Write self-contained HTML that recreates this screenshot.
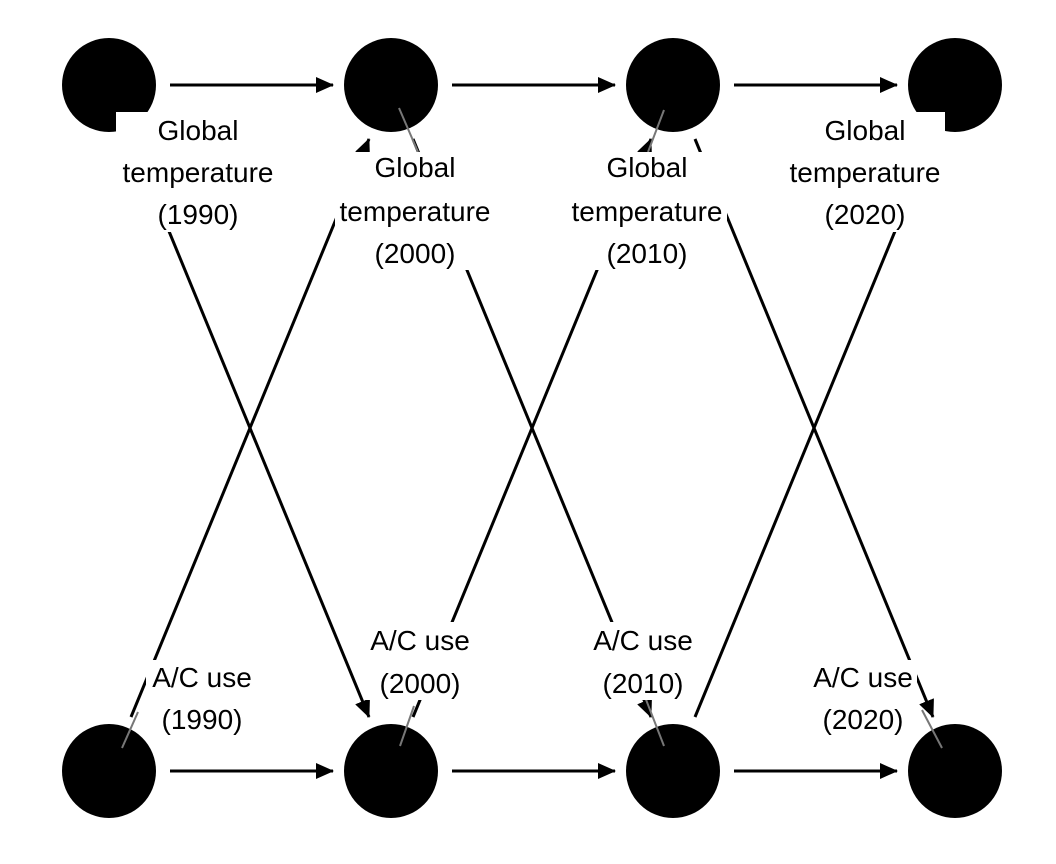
<!DOCTYPE html>
<html><head><meta charset="utf-8"><style>
html,body{margin:0;padding:0;background:#fff;}
svg{display:block;}
text{font-family:"Liberation Sans",Arial,sans-serif;font-size:28px;fill:#000;text-anchor:middle;}
</style></head><body>
<svg width="1056" height="864" viewBox="0 0 1056 864" xmlns="http://www.w3.org/2000/svg">
<defs>
<marker id="b" markerWidth="18" markerHeight="16" refX="17" refY="8" orient="auto" markerUnits="userSpaceOnUse" viewBox="0 0 18 16">
<path d="M0,0 L18,8 L0,16 z" fill="#000"/>
</marker>
</defs>
<g fill="#000">
<circle cx="109" cy="85" r="47"/><circle cx="391" cy="85" r="47"/><circle cx="673" cy="85" r="47"/><circle cx="955" cy="85" r="47"/>
<circle cx="109" cy="771" r="47"/><circle cx="391" cy="771" r="47"/><circle cx="673" cy="771" r="47"/><circle cx="955" cy="771" r="47"/>
</g>
<g stroke="#000" stroke-width="3" fill="none" marker-end="url(#b)">
<line x1="170" y1="85" x2="333" y2="85"/>
<line x1="452" y1="85" x2="615" y2="85"/>
<line x1="734" y1="85" x2="897" y2="85"/>
<line x1="170" y1="771" x2="333" y2="771"/>
<line x1="452" y1="771" x2="615" y2="771"/>
<line x1="734" y1="771" x2="897" y2="771"/>
<line x1="131" y1="139" x2="369" y2="717"/>
<line x1="131" y1="717" x2="369" y2="139"/>
<line x1="413" y1="139" x2="651" y2="717"/>
<line x1="413" y1="717" x2="651" y2="139"/>
<line x1="695" y1="139" x2="933" y2="717"/>
<line x1="695" y1="717" x2="933" y2="139"/>
</g>
<g stroke="#777" stroke-width="2">
<line x1="399" y1="108" x2="418" y2="152"/>
<line x1="664" y1="110" x2="648" y2="152"/>
<line x1="122" y1="748" x2="138" y2="712"/>
<line x1="400" y1="746" x2="414" y2="706"/>
<line x1="664" y1="746" x2="645" y2="697"/>
<line x1="942" y1="748" x2="922" y2="710"/>
</g>
<g fill="#fff">
<rect x="116" y="112" width="164" height="120"/>
<rect x="335" y="152" width="160" height="118"/>
<rect x="567" y="152" width="160" height="118"/>
<rect x="785" y="112" width="160" height="120"/>
<rect x="146" y="660" width="112" height="76"/>
<rect x="366" y="622" width="108" height="78"/>
<rect x="589" y="622" width="108" height="78"/>
<rect x="809" y="660" width="108" height="76"/>
</g>
<text x="198" y="140">Global</text><text x="198" y="182">temperature</text><text x="198" y="224">(1990)</text>
<text x="415" y="177">Global</text><text x="415" y="221">temperature</text><text x="415" y="263">(2000)</text>
<text x="647" y="177">Global</text><text x="647" y="221">temperature</text><text x="647" y="263">(2010)</text>
<text x="865" y="140">Global</text><text x="865" y="182">temperature</text><text x="865" y="224">(2020)</text>
<text x="202" y="687">A/C use</text><text x="202" y="729">(1990)</text>
<text x="420" y="650">A/C use</text><text x="420" y="693">(2000)</text>
<text x="643" y="650">A/C use</text><text x="643" y="693">(2010)</text>
<text x="863" y="687">A/C use</text><text x="863" y="729">(2020)</text>
</svg>
</body></html>
